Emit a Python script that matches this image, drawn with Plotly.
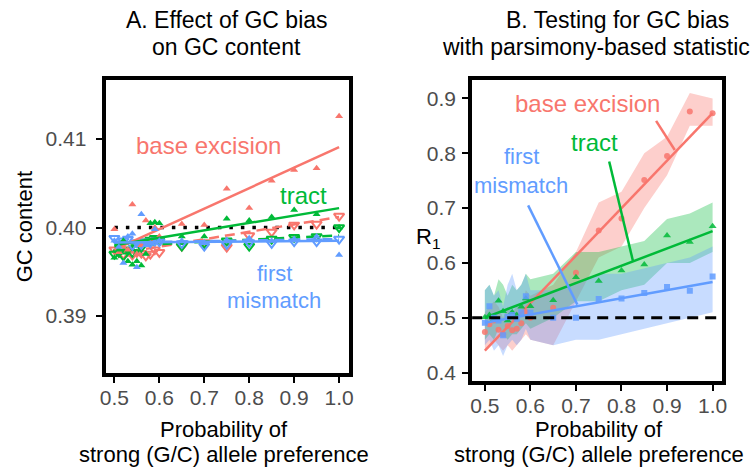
import plotly.graph_objects as go

# ---------------- data ----------------
x_pts = [0.50, 0.51, 0.52, 0.53, 0.54, 0.55, 0.56, 0.57, 0.58, 0.59, 0.60,
         0.65, 0.70, 0.75, 0.80, 0.85, 0.90, 0.95, 1.00]

# Panel A: GC content
gc_base_up = [0.3998, 0.3972, 0.3978, 0.3975, 0.4026, 0.3970, 0.3980, 0.4008, 0.3985, 0.4000, 0.3990,
              0.4004, 0.4003, 0.4044, 0.4022, 0.4053, 0.4065, 0.4067, 0.4126]
gc_base_dn = [0.3975, 0.3972, 0.3970, 0.3973, 0.3969, 0.3972, 0.3971, 0.3968, 0.3970, 0.3975, 0.3972,
              0.3979, 0.3983, 0.3978, 0.3991, 0.3995, 0.4003, 0.4004, 0.4013]
gc_tract_up = [0.3966, 0.3975, 0.3985, 0.3962, 0.3958, 0.3962, 0.3957, 0.3970, 0.4005, 0.4006, 0.4005,
               0.3990, 0.3990, 0.4010, 0.4008, 0.4012, 0.4020, 0.4015, 0.4000]
gc_tract_dn = [0.3970, 0.3972, 0.3968, 0.3975, 0.3972, 0.3976, 0.3978, 0.3984, 0.3986, 0.3988, 0.3985,
               0.3979, 0.3982, 0.3985, 0.3979, 0.3987, 0.3989, 0.3990, 0.4000]
gc_first_up = [0.3985, 0.3978, 0.3960, 0.3990, 0.3993, 0.3955, 0.4015, 0.3980, 0.3982, 0.3998, 0.3985,
               0.3985, 0.3983, 0.3986, 0.3988, 0.3985, 0.3987, 0.3990, 0.3969]
gc_first_dn = [0.3988, 0.3982, 0.3985, 0.3987, 0.3980, 0.3983, 0.3981, 0.3984, 0.3983, 0.3985, 0.3984,
               0.3982, 0.3979, 0.3981, 0.3983, 0.3982, 0.3984, 0.3984, 0.3987]

fit_x = [0.5, 1.0]
gc_base_fit = [0.3975, 0.4091]
gc_base_fit_dn = [0.3970, 0.4012]
gc_tract_fit = [0.3980, 0.4022]
gc_tract_fit_dn = [0.3979, 0.3991]
gc_first_fit = [0.3983, 0.3985]
gc_first_fit_dn = [0.3983, 0.3987]
gc_ref_x = [0.5, 1.0]
gc_ref_y = [0.40, 0.40]

# Panel B: R1 statistic
r_base = [0.474, 0.488, 0.495, 0.478, 0.470, 0.485, 0.477, 0.480, 0.490, 0.510, 0.500,
          0.518, 0.582, 0.659, 0.681, 0.751, 0.795, 0.876, 0.873]
r_base_lo = [0.44, 0.45, 0.46, 0.45, 0.44, 0.45, 0.44, 0.45, 0.46, 0.47, 0.46,
             0.45, 0.53, 0.61, 0.63, 0.70, 0.76, 0.85, 0.85]
r_base_hi = [0.51, 0.52, 0.53, 0.52, 0.50, 0.52, 0.51, 0.52, 0.52, 0.55, 0.54,
             0.56, 0.62, 0.71, 0.73, 0.80, 0.83, 0.91, 0.90]
r_tract = [0.501, 0.505, 0.497, 0.531, 0.512, 0.495, 0.510, 0.505, 0.520, 0.535, 0.521,
           0.532, 0.574, 0.567, 0.586, 0.597, 0.650, 0.638, 0.667]
r_tract_lo = [0.46, 0.47, 0.46, 0.48, 0.47, 0.46, 0.47, 0.47, 0.48, 0.49, 0.48,
              0.50, 0.53, 0.53, 0.55, 0.56, 0.60, 0.60, 0.62]
r_tract_hi = [0.55, 0.56, 0.54, 0.57, 0.56, 0.54, 0.56, 0.55, 0.56, 0.58, 0.57,
              0.58, 0.62, 0.62, 0.63, 0.64, 0.68, 0.69, 0.71]
r_first = [0.491, 0.521, 0.500, 0.495, 0.468, 0.502, 0.505, 0.498, 0.510, 0.539, 0.509,
           0.500, 0.500, 0.534, 0.535, 0.545, 0.556, 0.549, 0.575]
r_first_lo = [0.45, 0.46, 0.44, 0.45, 0.43, 0.45, 0.46, 0.45, 0.46, 0.48, 0.46,
              0.45, 0.46, 0.46, 0.47, 0.48, 0.49, 0.50, 0.51]
r_first_hi = [0.55, 0.56, 0.54, 0.55, 0.52, 0.56, 0.58, 0.55, 0.56, 0.58, 0.55,
              0.55, 0.56, 0.58, 0.58, 0.59, 0.60, 0.61, 0.63]

r_base_fit = [0.440, 0.873]
r_tract_fit = [0.500, 0.658]
r_first_fit = [0.491, 0.565]
r_ref_x = [0.47, 1.03]
r_ref_y = [0.5, 0.5]

# label leader lines (panel B)
lead_base_x, lead_base_y = [0.876, 0.917], [0.859, 0.806]
lead_tract_x, lead_tract_y = [0.773, 0.825], [0.785, 0.604]
lead_first_x, lead_first_y = [0.595, 0.703], [0.705, 0.524]

titles = ["A. Effect of GC bias", "on GC content",
          "B. Testing for GC bias", "with parsimony-based statistic"]
xlab = ["Probability of", "strong (G/C) allele preference"]
x_ticks = [0.5, 0.6, 0.7, 0.8, 0.9, 1.0]
x_ticktext = ["0.5", "0.6", "0.7", "0.8", "0.9", "1.0"]
gc_ticks = [0.39, 0.40, 0.41]
gc_ticktext = ["0.39", "0.40", "0.41"]
r_ticks = [0.4, 0.5, 0.6, 0.7, 0.8, 0.9]
r_ticktext = ["0.4", "0.5", "0.6", "0.7", "0.8", "0.9"]

RED, GREEN, BLUE = "#F8766D", "#00BA38", "#619CFF"
RED_F, GREEN_F, BLUE_F = "rgba(248,118,109,0.35)", "rgba(0,186,56,0.33)", "rgba(97,156,255,0.35)"
FONT = "Liberation Sans, Arial, sans-serif"

fig = go.Figure()

# ---------- Panel A ----------
fig.add_trace(go.Scatter(x=gc_ref_x, y=gc_ref_y, mode="lines",
                         line=dict(color="black", width=3.5, dash="3.5px,8px"),
                         xaxis="x", yaxis="y", hoverinfo="skip"))
for dn, fitdn, col in [(gc_base_dn, gc_base_fit_dn, RED),
                       (gc_tract_dn, gc_tract_fit_dn, GREEN),
                       (gc_first_dn, gc_first_fit_dn, BLUE)]:
    fig.add_trace(go.Scatter(x=fit_x, y=fitdn, mode="lines",
                             line=dict(color=col, width=2.5, dash="10px,6px"),
                             xaxis="x", yaxis="y"))
    fig.add_trace(go.Scatter(x=x_pts, y=dn, mode="markers",
                             marker=dict(symbol="triangle-down-open", size=9, color=col,
                                         line=dict(width=2, color=col)),
                             xaxis="x", yaxis="y"))
for up, fit, col in [(gc_base_up, gc_base_fit, RED), (gc_tract_up, gc_tract_fit, GREEN),
                     (gc_first_up, gc_first_fit, BLUE)]:
    fig.add_trace(go.Scatter(x=fit_x, y=fit, mode="lines",
                             line=dict(color=col, width=2.5), xaxis="x", yaxis="y"))
    fig.add_trace(go.Scatter(x=x_pts, y=up, mode="markers",
                             marker=dict(symbol="triangle-up", size=7, color=col),
                             xaxis="x", yaxis="y"))

# ---------- Panel B ----------
for lo, hi, fc in [(r_base_lo, r_base_hi, RED_F), (r_tract_lo, r_tract_hi, GREEN_F),
                   (r_first_lo, r_first_hi, BLUE_F)]:
    fig.add_trace(go.Scatter(x=x_pts, y=lo, mode="lines", line=dict(width=0),
                             xaxis="x2", yaxis="y2", hoverinfo="skip"))
    fig.add_trace(go.Scatter(x=x_pts, y=hi, mode="lines", line=dict(width=0),
                             fill="tonexty", fillcolor=fc, xaxis="x2", yaxis="y2"))
for vals, fit, col, sym, sz in [(r_base, r_base_fit, RED, "circle", 6),
                                (r_tract, r_tract_fit, GREEN, "triangle-up", 7),
                                (r_first, r_first_fit, BLUE, "square", 6)]:
    fig.add_trace(go.Scatter(x=fit_x, y=fit, mode="lines", line=dict(color=col, width=2.5),
                             xaxis="x2", yaxis="y2"))
    fig.add_trace(go.Scatter(x=x_pts, y=vals, mode="markers",
                             marker=dict(symbol=sym, size=sz, color=col, opacity=0.85),
                             xaxis="x2", yaxis="y2"))
for lx, ly, col in [(lead_base_x, lead_base_y, RED), (lead_tract_x, lead_tract_y, GREEN),
                    (lead_first_x, lead_first_y, BLUE)]:
    fig.add_trace(go.Scatter(x=lx, y=ly, mode="lines", line=dict(color=col, width=2.5),
                             xaxis="x2", yaxis="y2"))
fig.add_trace(go.Scatter(x=r_ref_x, y=r_ref_y, mode="lines",
                         line=dict(color="black", width=3, dash="11px,7px"),
                         xaxis="x2", yaxis="y2"))

W, H = 756, 472
def px(x):
    return x / W
def py(y):
    return 1 - y / H

axis_common = dict(showline=True, linewidth=4, linecolor="black", mirror=True,
                   ticks="outside", ticklen=6, tickwidth=2, tickcolor="black",
                   showgrid=False, zeroline=False,
                   tickfont=dict(family=FONT, size=21, color="#4D4D4D"))

fig.update_layout(
    width=W, height=H, margin=dict(l=0, r=0, t=0, b=0),
    paper_bgcolor="white", plot_bgcolor="white", showlegend=False,
    font=dict(family=FONT),
    xaxis=dict(domain=[px(101), px(348)], range=[0.4803, 1.0219], anchor="y",
               tickvals=x_ticks, ticktext=x_ticktext, ticklabelstandoff=-3, **axis_common),
    yaxis=dict(domain=[py(375), py(81)], range=[0.3836, 0.41663], anchor="x",
               tickvals=gc_ticks, ticktext=gc_ticktext, ticklabelstandoff=5, **axis_common),
    xaxis2=dict(domain=[px(473), px(727)], range=[0.472, 1.0216], anchor="y2",
                tickvals=x_ticks, ticktext=x_ticktext, ticklabelstandoff=-3, **axis_common),
    yaxis2=dict(domain=[py(383), py(81)], range=[0.3854, 0.9327], anchor="x2",
                tickvals=r_ticks, ticktext=r_ticktext, ticklabelstandoff=2, **axis_common),
)

ann = []
def add_text(text, x, y, size, color="black", xanchor="center", angle=0):
    ann.append(dict(text=text, x=px(x), y=py(y), xref="paper", yref="paper",
                    xanchor=xanchor, yanchor="middle", showarrow=False, textangle=angle,
                    font=dict(family=FONT, size=size, color=color)))

add_text(titles[0], 224, 20, 23)
add_text(titles[1], 224, 47, 23)
add_text(titles[2], 621, 20, 23)
add_text(titles[3], 757, 47, 23, xanchor="right")
for cx in (221, 602):
    add_text(xlab[0], cx, 432, 22)
    add_text(xlab[1], cx, 457, 22)
add_text("GC content", 19, 228, 22, angle=-90)
add_text("R<sub>1</sub>", 428, 240, 22)
# panel A labels
add_text("base excision", 205, 146, 24, RED)
add_text("tract", 302, 197, 24, GREEN)
add_text("first", 272, 275, 22, BLUE)
add_text("mismatch", 272, 302, 22, BLUE)
# panel B labels
add_text("base excision", 590, 104, 24, RED)
add_text("tract", 597, 143, 24, GREEN)
add_text("first", 523, 157, 22, BLUE)
add_text("mismatch", 523, 187, 22, BLUE)
fig.update_layout(annotations=ann)

fig.write_html("out.html")
